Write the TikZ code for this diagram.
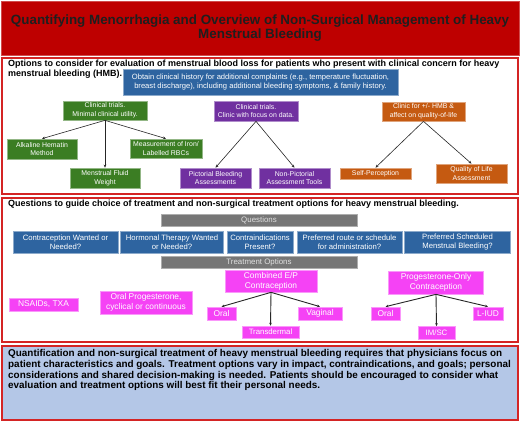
\documentclass[tikz,border=0pt]{standalone}
\usepackage{fontspec}
\setmainfont{Liberation Sans}
\usepackage{tikz}
\usetikzlibrary{arrows.meta}

\definecolor{titlered}{HTML}{BE0000}
\definecolor{framered}{HTML}{D42424}
\definecolor{hmbgreen}{HTML}{3B7D23}
\definecolor{hmbpurple}{HTML}{7030A0}
\definecolor{hmborange}{HTML}{C55A11}
\definecolor{hmbblue}{HTML}{2E64A0}
\definecolor{hmbgray}{HTML}{767676}
\definecolor{hmbpink}{HTML}{F542F5}
\definecolor{summaryblue}{HTML}{B4C7E7}

\begin{document}
\begin{tikzpicture}
            [x=1pt,y=-1pt,
             every node/.style={inner sep=0pt,align=center},
             bx/.style n args={2}{minimum width=#1pt,minimum height=#2pt},
             greenbox/.style={fill=hmbgreen,draw=hmbgreen!55!white,line width=.7pt,text=white,font=\fontsize{6.9}{8.6}\selectfont},
             purplebox/.style={fill=hmbpurple,draw=hmbpurple!55!white,line width=.7pt,text=white,font=\fontsize{6.9}{8.6}\selectfont},
             orangebox/.style={fill=hmborange,draw=hmborange!55!white,line width=.7pt,text=white,font=\fontsize{6.9}{8.6}\selectfont},
             bluebox/.style={fill=hmbblue,draw=hmbblue!55!white,line width=.7pt,text=white,font=\fontsize{7.7}{9.5}\selectfont},
             graybar/.style={fill=hmbgray,draw=hmbgray!60!white,line width=.7pt,text=white!88!black,font=\fontsize{7.9}{9}\selectfont},
             pinkbox/.style={fill=hmbpink,draw=hmbpink!55!white,line width=.7pt,text=white,font=\fontsize{8.4}{10}\selectfont},
             heading/.style={anchor=north west,align=left,font=\fontsize{9}{10.6}\selectfont\bfseries},
             link/.style={draw=black!85,line width=.6pt,-{Stealth[length=3pt,width=2.6pt]}},
             pinklink/.style={draw=black!85,line width=.9pt,-{Stealth[length=3pt,width=2.6pt]}}]
            \useasboundingbox (0,0) rectangle (520,422);
            \fill[white] (0,0) rectangle (520,422);
            %
            % title and frames
            \draw[fill=titlered,draw=titlered!70!white,line width=.8pt] (1,1) rectangle (519,55);
            \node[font=\fontsize{13.4}{13.8}\selectfont\bfseries,text=black!88] (title) at (260,28) {Quantifying Menorrhagia and Overview of Non-Surgical Management of Heavy\\ Menstrual Bleeding};
            \draw[framered,line width=1.4pt] (2,58) rectangle (518,194);
            \draw[framered,line width=1.4pt] (2,198) rectangle (518,342);
            \draw[framered,line width=1.4pt,fill=summaryblue] (2,346) rectangle (518,420);
            %
            % evaluation
            \node[heading] (head1) at (8,59.5) {Options to consider for evaluation of menstrual blood loss for patients who present with clinical concern for heavy\\ menstrual bleeding (HMB).};
            \node[bluebox,bx={275}{26},font=\fontsize{7.6}{9}\selectfont] (hist) at (260.5,82) {Obtain clinical history for additional complaints (e.g., temperature fluctuation,\\ breast discharge), including additional bleeding symptoms, \& family history.};
            \node[greenbox,bx={84}{19}] (g0) at (105,110.5) {Clinical trials.\\ Minimal clinical utility.};
            \node[greenbox,bx={70}{20}] (g1) at (42,149) {Alkaline Hematin\\ Method};
            \node[greenbox,bx={72}{19}] (g2) at (166,148.5) {Measurement of Iron/\\ Labelled RBCs};
            \node[greenbox,bx={70}{20}] (g3) at (105,178) {Menstrual Fluid\\ Weight};
            \node[purplebox,bx={84}{20}] (p0) at (256,111) {Clinical trials.\\ Clinic with focus on data.};
            \node[purplebox,bx={71}{20}] (p1) at (215.5,178) {Pictorial Bleeding\\ Assessments};
            \node[purplebox,bx={71}{20}] (p2) at (294.5,178) {Non-Pictorial\\ Assessment Tools};
            \node[orangebox,bx={83}{19}] (o0) at (423.5,111.5) {Clinic for +/- HMB \&\\ affect on quality-of-life};
            \node[orangebox,bx={71}{11}] (o1) at (375.5,173.5) {Self-Perception};
            \node[orangebox,bx={71}{19}] (o2) at (471.5,173.5) {Quality of Life\\ Assessment};
            %
            \draw[link] (g0.south) -- (g1.north);
            \draw[link] (g0.south) -- (g2.north);
            \draw[link] (g0.south) -- (g3.north);
            \draw[link] (p0.south) -- (p1.north);
            \draw[link] (p0.south) -- (p2.north);
            \draw[link] (o0.south) -- (o1.north);
            \draw[link] (o0.south) -- (o2.north);
            %
            % questions and treatment
            \node[heading] (head2) at (8,199.5) {Questions to guide choice of treatment and non-surgical treatment options for heavy menstrual bleeding.};
            \node[graybar,bx={196}{12}] (qbar) at (259,220.5) {Questions};
            \node[bluebox,bx={105}{22}] (q1) at (65.5,242) {Contraception Wanted or\\ Needed?};
            \node[bluebox,bx={103}{22}] (q2) at (172,242) {Hormonal Therapy Wanted\\ or Needed?};
            \node[bluebox,bx={66}{22}] (q3) at (260,242) {Contraindications\\ Present?};
            \node[bluebox,bx={105}{22}] (q4) at (349.5,242) {Preferred route or schedule\\ for administration?};
            \node[bluebox,bx={106}{22}] (q5) at (457.5,242) {Preferred Scheduled\\ Menstrual Bleeding?};
            \node[graybar,bx={196}{12}] (tbar) at (259,262) {Treatment Options};
            \node[pinkbox,bx={92}{22}] (m1) at (271,281) {Combined E/P\\ Contraception};
            \node[pinkbox,bx={95}{23}] (m2) at (436,282.5) {Progesterone-Only\\ Contraception};
            \node[pinkbox,bx={69}{13}] (m3) at (43.5,304.5) {NSAIDs, TXA};
            \node[pinkbox,bx={92}{23}] (m4) at (146,302.5) {Oral Progesterone,\\ cyclical or continuous};
            \node[pinkbox,bx={29}{13}] (c1) at (221.5,313.5) {Oral};
            \node[pinkbox,bx={57}{12},font=\fontsize{7.8}{9}\selectfont] (c2) at (270.5,332) {Transdermal};
            \node[pinkbox,bx={44}{13}] (c3) at (320,313.5) {Vaginal};
            \node[pinkbox,bx={29}{13}] (d1) at (385.5,313.5) {Oral};
            \node[pinkbox,bx={37}{13},font=\fontsize{7.8}{9}\selectfont] (d2) at (436.5,333) {IM/SC};
            \node[pinkbox,bx={30}{13}] (d3) at (488,313.5) {L-IUD};
            %
            \draw[pinklink] (m1.south) -- (c1.north);
            \draw[pinklink] (m1.south) -- (c2.north);
            \draw[pinklink] (m1.south) -- (c3.north);
            \draw[pinklink] (m2.south) -- (d1.north);
            \draw[pinklink] (m2.south) -- (d2.north);
            \draw[pinklink] (m2.south) -- (d3.north);
            %
            % summary
            \node[anchor=north west,align=left,font=\fontsize{9.9}{10.7}\selectfont\bfseries] (summary) at (8,349.5) {Quantification and non-surgical treatment of heavy menstrual bleeding requires that physicians focus on\\ patient characteristics and goals. Treatment options vary in impact, contraindications, and goals; personal\\ considerations and shared decision-making is needed. Patients should be encouraged to consider what\\ evaluation and treatment options will best fit their personal needs.};
        \end{tikzpicture}
\end{document}
